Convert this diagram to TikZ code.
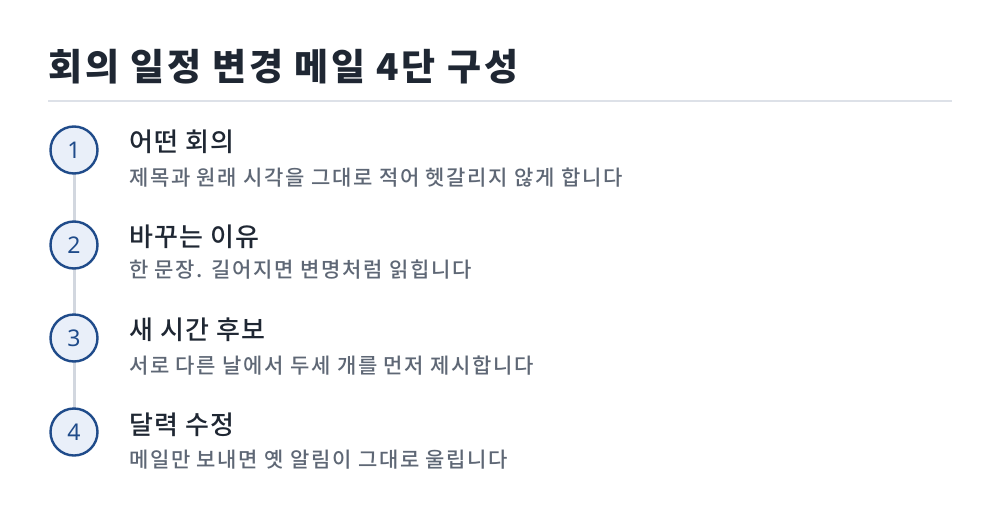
\documentclass[tikz,border=0pt]{standalone}
\usepackage{fontspec}
\setmainfont{Noto Sans CJK KR}
\newfontfamily\titlefont[LetterSpace=7.5]{Noto Sans CJK KR}
\newfontfamily\headfont[LetterSpace=5]{Noto Sans CJK KR Medium}
\newfontfamily\subfont[LetterSpace=8]{Noto Sans CJK KR Medium}
\newfontfamily\numfont{Noto Sans}
\definecolor{titlec}{HTML}{1F2733}
\definecolor{subc}{HTML}{5E6775}
\definecolor{rulec}{HTML}{DDE1E8}
\definecolor{stemc}{HTML}{D2D7DF}
\definecolor{circd}{HTML}{1F4B8A}
\definecolor{circf}{HTML}{E9EFF9}
\begin{document}
\begin{tikzpicture}[x=1pt,y=-1pt,
  titlestyle/.style={anchor=base west,inner sep=0pt,font=\titlefont\fontsize{37}{40}\selectfont\bfseries,text=titlec},
  headstyle/.style={anchor=west,inner sep=0pt,font=\headfont\fontsize{26}{28}\selectfont,text=titlec},
  substyle/.style={anchor=west,inner sep=0pt,font=\subfont\fontsize{21}{24}\selectfont,text=subc},
  numcirc/.style={circle,draw=circd,fill=circf,line width=2.4pt,minimum size=47pt,inner sep=0pt,text=circd,font=\numfont\fontsize{23}{25}\selectfont}]
\useasboundingbox (0,0) rectangle (1000,522);
\fill[white] (0,0) rectangle (1000,522);
\node[titlestyle] (title) at (48,80) {회의 일정 변경 메일 4단 구성};
\coordinate (rl) at (48,101);
\coordinate (rr) at (952,101);
\draw[rulec,line width=2pt] (rl) -- (rr);
\coordinate (s1) at (74,150);
\coordinate (s4) at (74,432);
\draw[stemc,line width=3pt] (s1) -- (s4);
\node[numcirc] (c1) at (74,150) {1};
\node[numcirc] (c2) at (74,245) {2};
\node[numcirc] (c3) at (74,338) {3};
\node[numcirc] (c4) at (74,432) {4};
\node[headstyle] (h1) at (129,142) {어떤 회의};
\node[substyle] (t1) at (129,178) {제목과 원래 시각을 그대로 적어 헷갈리지 않게 합니다};
\node[headstyle] (h2) at (129,237) {바꾸는 이유};
\node[substyle] (t2) at (129,270) {한 문장. 길어지면 변명처럼 읽힙니다};
\node[headstyle] (h3) at (129,330) {새 시간 후보};
\node[substyle] (t3) at (129,366) {서로 다른 날에서 두세 개를 먼저 제시합니다};
\node[headstyle] (h4) at (129,425) {달력 수정};
\node[substyle] (t4) at (129,460) {메일만 보내면 옛 알림이 그대로 울립니다};
\end{tikzpicture}
\end{document}
